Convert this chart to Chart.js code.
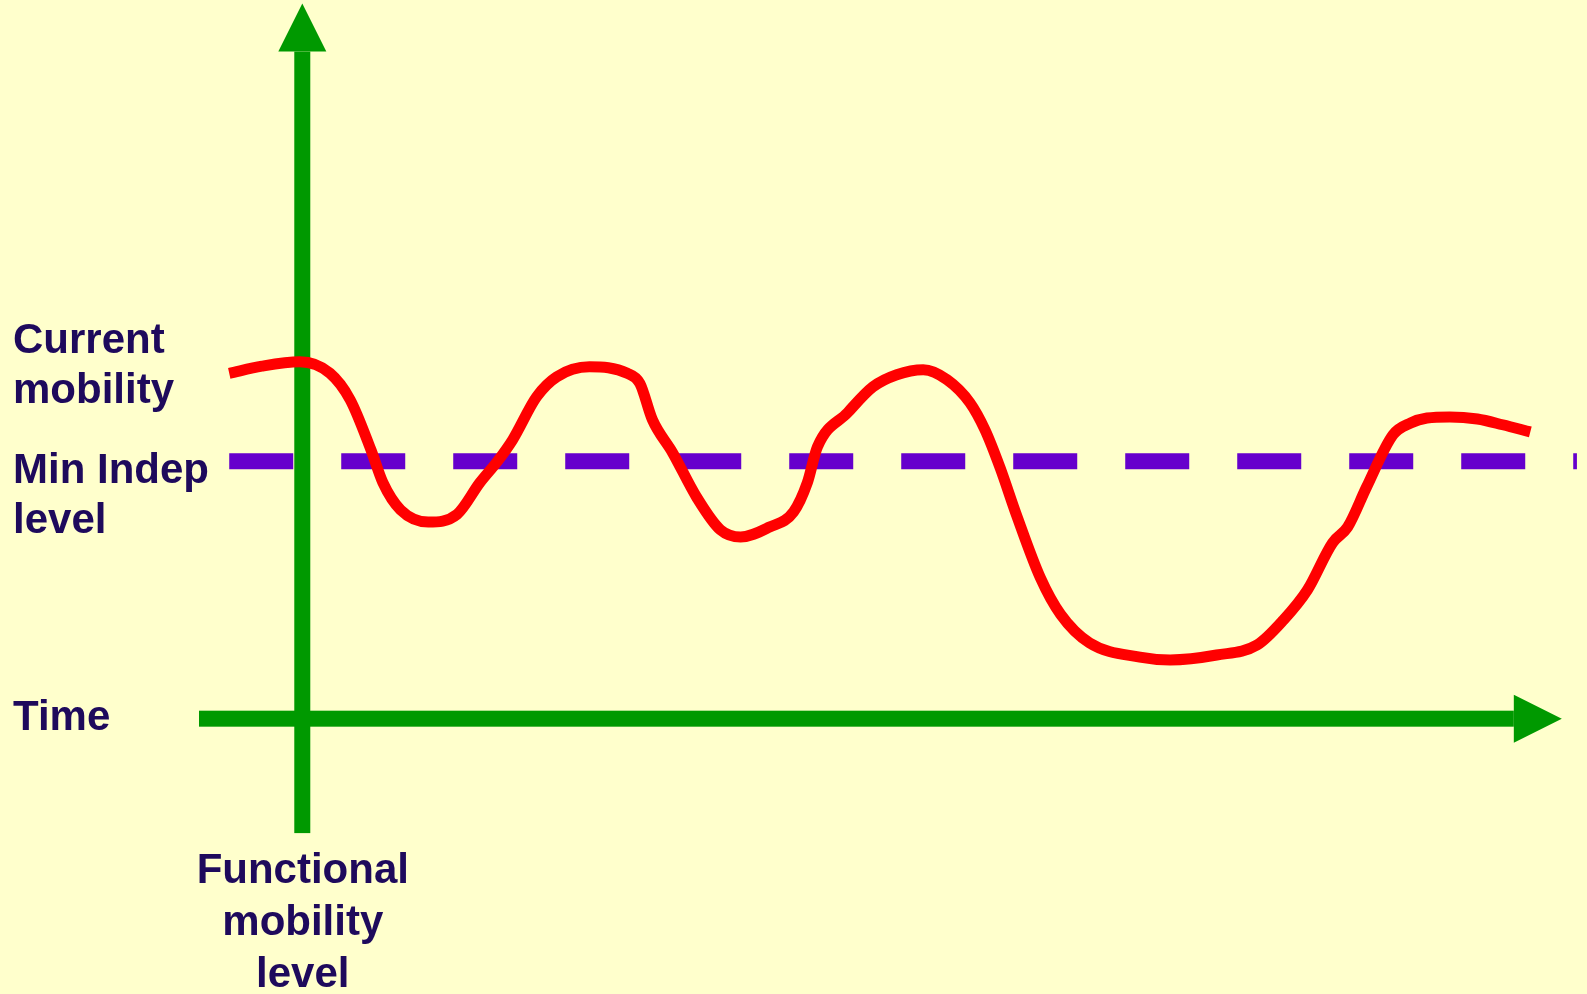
<!DOCTYPE html>
<html>
<head>
<meta charset="utf-8">
<script src="https://cdn.jsdelivr.net/npm/chart.js@4/dist/chart.umd.min.js"></script>
<style>
  html, body { margin: 0; padding: 0; background: #FFFFCC; }
  canvas { display: block; }
</style>
</head>
<body>
<canvas id="chart" width="1587" height="994"></canvas>
<script>
// time (arbitrary units, y axis at 0, arrow tip at 100)
const times = [
  -5.8, -3.2, -0.2, 2.2, 3.8, 5.45, 6.4, 7.8, 10.0, 12.3, 14.1, 15.5, 16.7, 18.6, 20.2,
  22.8, 25.8, 26.8, 27.8, 29.4, 31.3, 33.2, 34.8, 37.1, 39.0, 40.1, 40.9, 43.3,
  45.3, 47.2, 49.3, 51.2, 53.0, 54.2, 55.4, 56.7, 58.6, 60.2, 62.5, 66.5, 68.9, 72.6,
  75.8, 77.9, 79.8, 81.8, 83.0, 84.5, 86.6, 88.0, 89.3, 91.1, 93.3, 95.3, 97.5
];
// current mobility level (time axis at 0)
const mobility = [
  48.3, 49.3, 49.9, 48.3, 44.6, 37.6, 33.0, 29.2, 27.5, 28.6, 33.0, 36.0, 39.0, 45.0, 47.8,
  49.2, 48.3, 46.9, 41.8, 37.2, 31.0, 26.4, 25.4, 26.8, 28.9, 33.0, 38.0, 42.8,
  46.4, 48.1, 48.8, 47.4, 44.2, 40.4, 35.1, 28.5, 19.7, 14.6, 10.6, 8.6, 8.2, 8.9,
  10.3, 13.8, 18.0, 24.6, 26.8, 32.4, 39.7, 41.35, 42.05, 42.2, 41.9, 41.1, 40.1
];
// minimum independence level
const levelTimes = [-5.8, 101.2];
const levelValues = [36, 36];
// axes extents
const timeAxisRange = [-8.2, 100];
const mobilityAxisRange = [-16, 100];

const sideLabels = [['Current', 'mobility'], ['Min Indep', 'level'], ['Time']];
const axisTitle = ['Functional', 'mobility', 'level'];

const GREEN = '#009900';
const TEXT = '#1E0A5C';
const FONT = 'bold 42px "Liberation Sans", Arial, sans-serif';

const toPoints = (xs, ys) => xs.map((x, i) => ({ x: x, y: ys[i] }));

const axesPlugin = {
  id: 'axesPlugin',
  beforeDatasetsDraw(chart) {
    const ctx = chart.ctx;
    const xs = chart.scales.x;
    const ys = chart.scales.y;
    const x0 = xs.getPixelForValue(0);
    const y0 = ys.getPixelForValue(0);
    const shaft = 16;
    const head = 48;
    const headHalf = 24;

    ctx.save();
    ctx.fillStyle = GREEN;

    // vertical axis
    const yTop = ys.getPixelForValue(mobilityAxisRange[1]);
    const yBottom = ys.getPixelForValue(mobilityAxisRange[0]);
    ctx.fillRect(x0 - shaft / 2, yTop + head, shaft, yBottom - yTop - head);
    ctx.beginPath();
    ctx.moveTo(x0, yTop);
    ctx.lineTo(x0 + headHalf, yTop + head);
    ctx.lineTo(x0 - headHalf, yTop + head);
    ctx.closePath();
    ctx.fill();

    // horizontal axis
    const xLeft = xs.getPixelForValue(timeAxisRange[0]);
    const xRight = xs.getPixelForValue(timeAxisRange[1]);
    ctx.fillRect(xLeft, y0 - shaft / 2, xRight - head - xLeft, shaft);
    ctx.beginPath();
    ctx.moveTo(xRight, y0);
    ctx.lineTo(xRight - head, y0 - headHalf);
    ctx.lineTo(xRight - head, y0 + headHalf);
    ctx.closePath();
    ctx.fill();
    ctx.restore();
  },
  afterDraw(chart) {
    const ctx = chart.ctx;
    const xs = chart.scales.x;
    const ys = chart.scales.y;
    const x0 = xs.getPixelForValue(0);
    const y0 = ys.getPixelForValue(0);
    const yLevel = ys.getPixelForValue(levelValues[0]);
    const lineH = 50;

    ctx.save();
    ctx.font = FONT;
    ctx.fillStyle = TEXT;
    ctx.textBaseline = 'alphabetic';

    ctx.textAlign = 'left';
    const starts = [yLevel - 108, yLevel + 22, y0 + 11];
    sideLabels.forEach((lines, i) => {
      lines.forEach((t, j) => ctx.fillText(t, 13, starts[i] + j * lineH));
    });

    ctx.textAlign = 'center';
    const yBottom = ys.getPixelForValue(mobilityAxisRange[0]);
    axisTitle.forEach((t, j) => ctx.fillText(t, x0 + 0.5, yBottom + 50 + j * 52));
    ctx.restore();
  }
};

new Chart(document.getElementById('chart'), {
  type: 'line',
  data: {
    datasets: [
      {
        label: 'Current mobility',
        data: toPoints(times, mobility),
        borderColor: '#FF0000',
        borderWidth: 11,
        pointRadius: 0,
        cubicInterpolationMode: 'monotone',
        fill: false,
        order: 0
      },
      {
        label: 'Min Indep level',
        data: toPoints(levelTimes, levelValues),
        borderColor: '#6600CC',
        borderWidth: 16,
        borderDash: [64, 48],
        pointRadius: 0,
        fill: false,
        order: 1
      }
    ]
  },
  options: {
    responsive: false,
    animation: false,
    layout: { padding: 0 },
    scales: {
      x: { type: 'linear', min: -24, max: 102, display: false },
      y: { type: 'linear', min: -38.5, max: 100.5, display: false }
    },
    plugins: {
      legend: { display: false },
      tooltip: { enabled: false }
    }
  },
  plugins: [axesPlugin]
});
</script>
</body>
</html>
